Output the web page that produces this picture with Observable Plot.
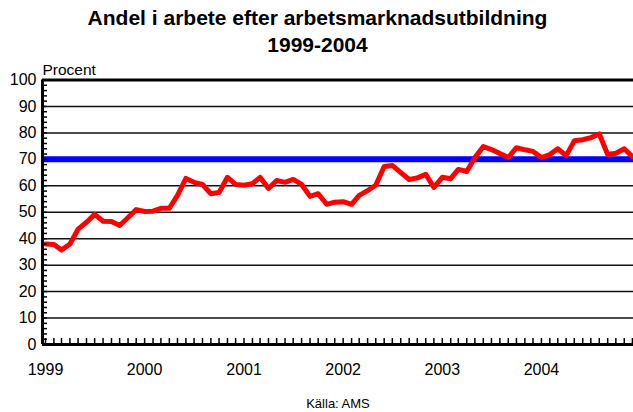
<!DOCTYPE html>
<html>
<head>
<meta charset="utf-8">
<script src="https://cdn.jsdelivr.net/npm/d3@7"></script>
<script src="https://cdn.jsdelivr.net/npm/@observablehq/plot@0.6"></script>
<style>
  html, body { margin: 0; padding: 0; background: #fff; }
  body { width: 633px; height: 412px; position: relative; overflow: hidden; font-family: "Liberation Sans", Arial, sans-serif; }
  #title { height: 58px; text-align: center; font-weight: bold; font-size: 21px; line-height: 27px; padding-top: 4px; padding-left: 2px; box-sizing: border-box; color: #000; }
  #caption { position: absolute; top: 396px; left: 0; width: 676px; text-align: center; font-size: 13px; color: #000; }
</style>
</head>
<body>
<div id="title">Andel i arbete efter arbetsmarknadsutbildning<br>1999-2004</div>
<div id="chart"></div>
<div id="caption">Källa: AMS</div>
<script>
const titleLines = ["Andel i arbete efter arbetsmarknadsutbildning", "1999-2004"];
const yLabel = "Procent";
const years = [1999, 2000, 2001, 2002, 2003, 2004];
const yTicks = [0, 10, 20, 30, 40, 50, 60, 70, 80, 90, 100];
const target = 70;
// Monthly values, Jan 1999 - Dec 2004
const values = [
  38, 37.8, 35.7, 38, 43.6, 46.2, 49.2, 46.6, 46.5, 45, 48, 51,
  50.3, 50.4, 51.5, 51.5, 56.4, 62.8, 61.3, 60.5, 57, 57.5, 63.2, 60.5,
  60.2, 60.8, 63.2, 59, 62, 61.3, 62.4, 60.5, 56, 57, 53, 53.8,
  54, 53, 56.4, 58.2, 60.2, 67.3, 67.7, 65, 62.4, 63, 64.3, 59.4,
  63.2, 62.7, 66.2, 65.4, 70.7, 74.8, 73.7, 72.2, 70.7, 74.4, 73.6, 73,
  70.7, 71.8, 74, 71.4, 77, 77.4, 78.2, 79.6, 71.8, 72.3, 74, 71
];

const months = values.map((_, i) => new Date(Date.UTC(years[0], i, 1)));
const data = months.map((date, i) => ({date, value: values[i]}));
const yearDates = years.map(y => new Date(Date.UTC(y, 0, 1)));
const minorY = d3.range(0, 101, 2);
const xDomain = [new Date(Date.UTC(1998, 11, 21)), new Date(Date.UTC(2004, 11, 5))];
const font = "Liberation Sans, Arial, sans-serif";

const W = 633, H = 323, mT = 21.5, mB = 37, mL = 42, mR = 0;
const innerW = W - mL - mR, innerH = H - mT - mB;

const chart = Plot.plot({
  width: W,
  height: H,
  marginTop: mT,
  marginBottom: mB,
  marginLeft: mL,
  marginRight: mR,
  style: {fontFamily: font, color: "#000", background: "#fff", overflow: "hidden"},
  x: {type: "utc", domain: xDomain},
  y: {domain: [0, 100]},
  marks: [
    Plot.ruleY(yTicks.filter(d => d > 0 && d < 100), {stroke: "#111", strokeWidth: 1.5}),
    Plot.ruleY([100], {stroke: "#000", strokeWidth: 3}),
    Plot.ruleY([target], {stroke: "#0000ff", strokeWidth: 6}),
    Plot.line(data, {x: "date", y: "value", stroke: "#ff0000", strokeWidth: 5, strokeLinejoin: "round", strokeLinecap: "round"}),
    Plot.tickY(minorY, {y: d => d, stroke: "#000", strokeWidth: 1.5, insetRight: innerW - 5}),
    Plot.tickX(months, {x: d => d, stroke: "#000", strokeWidth: 1.5, insetTop: innerH - 6}),
    Plot.axisY(yTicks, {anchor: "left", tickSize: 0, tickPadding: 6, fontSize: 16, label: null}),
    Plot.axisX(yearDates, {anchor: "bottom", tickSize: 0, tickPadding: 19, fontSize: 16, tickFormat: d3.utcFormat("%Y"), label: null}),
    Plot.ruleX([xDomain[0]], {stroke: "#000", strokeWidth: 3}),
    Plot.ruleY([0], {stroke: "#000", strokeWidth: 3}),
    Plot.text([yLabel], {frameAnchor: "top-left", dy: -16, textAnchor: "start", fontSize: 15.5, fill: "#000"})
  ]
});
document.getElementById("chart").appendChild(chart);
</script>
</body>
</html>
